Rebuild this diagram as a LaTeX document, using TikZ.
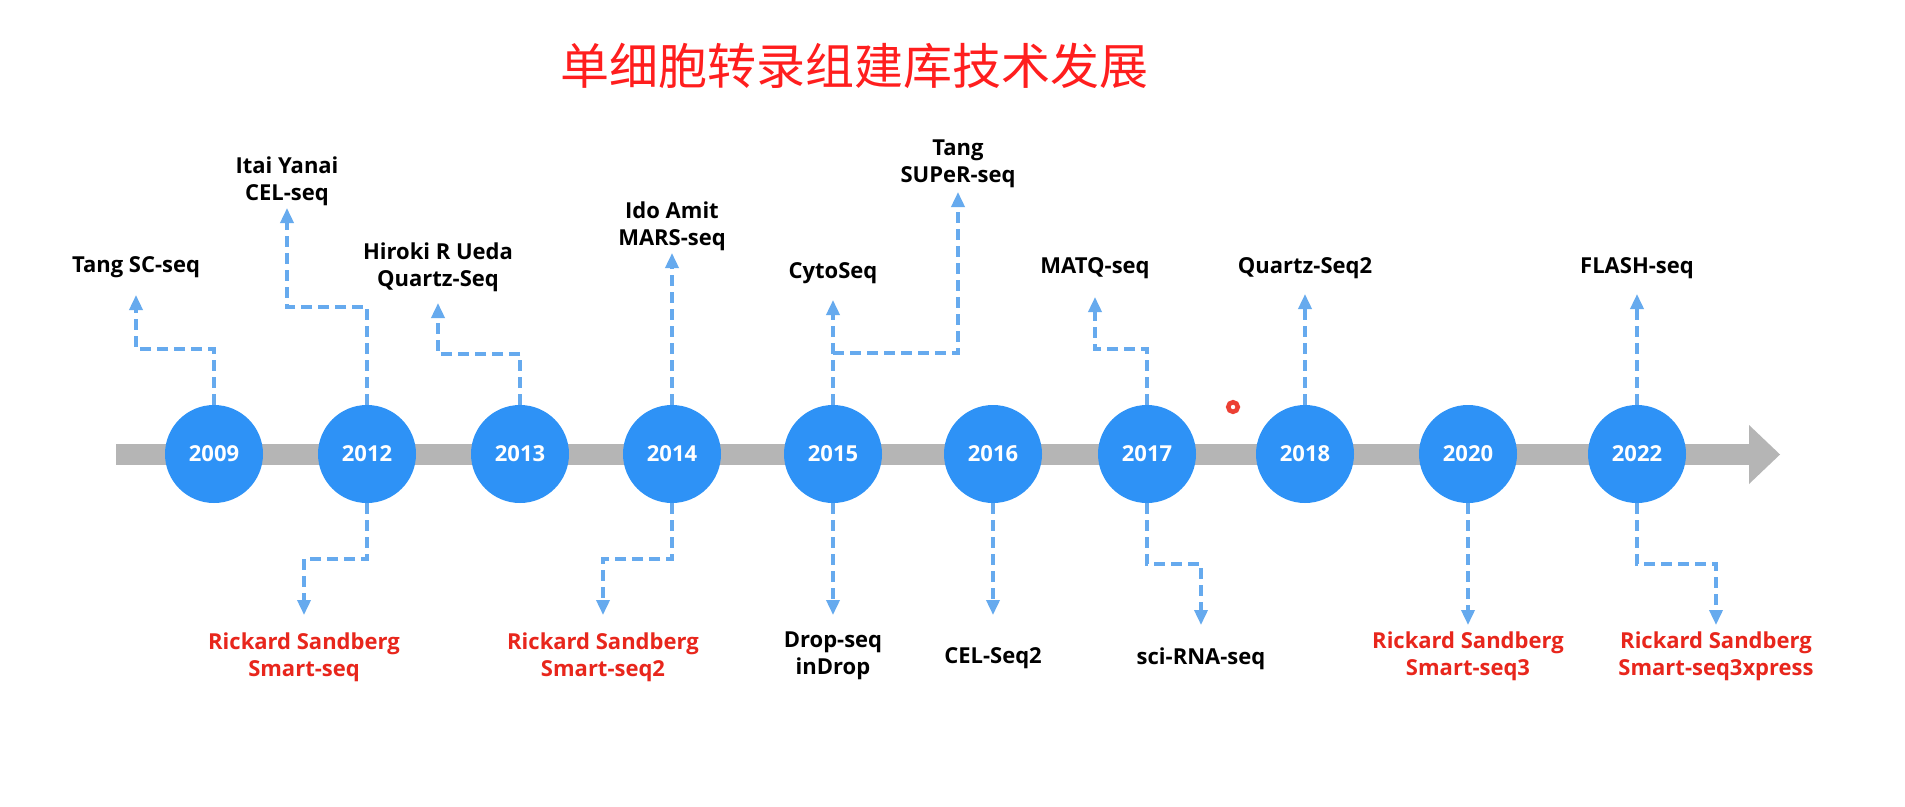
\documentclass[tikz,border=0pt]{standalone}
\usepackage{fontspec}
\usepackage{tikz}
\usetikzlibrary{arrows.meta}

\newfontfamily\opensans{Open Sans}
\newfontfamily\cjk{Noto Sans CJK SC}

\definecolor{yearblue}{RGB}{46,146,246}
\definecolor{linkblue}{RGB}{102,170,238}
\definecolor{bargray}{RGB}{181,181,181}
\definecolor{labred}{RGB}{232,38,28}
\definecolor{titlered}{RGB}{255,30,30}
\definecolor{ringred}{RGB}{236,64,52}

\begin{document}
\begin{tikzpicture}[
        x=1pt, y=-1pt,
        year/.style={
            circle,
            fill=yearblue,
            minimum size=98pt,
            inner sep=0pt,
            text=white,
            font=\opensans\bfseries\fontsize{22}{27}\selectfont
        },
        toplab/.style={
            anchor=south,
            align=center,
            inner xsep=0pt,
            font=\opensans\bfseries\fontsize{22}{27}\selectfont
        },
        botlab/.style={
            anchor=north,
            align=center,
            inner xsep=0pt,
            font=\opensans\bfseries\fontsize{22}{27}\selectfont
        },
        redlab/.style={
            botlab,
            text=labred
        },
        link/.style={
            draw=linkblue,
            line width=3.5pt,
            dash pattern=on 11pt off 6pt,
            -{Triangle[length=15pt, width=13pt]}
        }
    ]

    \fill[white] (0,0) rectangle (1905,806);
    \useasboundingbox (0,0) rectangle (1905,806);

    \node[font=\cjk\fontsize{49}{59}\selectfont, text=titlered] (title) at (854,66)
    {单细胞转录组建库技术发展};

    \fill[bargray] (116,444) rectangle (1749,465);
    \fill[bargray] (1749,425) -- (1780,454.5) -- (1749,484) -- cycle;

    \node[year] (y2009) at (214,454) {2009};
    \node[year] (y2012) at (367,454) {2012};
    \node[year] (y2013) at (520,454) {2013};
    \node[year] (y2014) at (672,454) {2014};
    \node[year] (y2015) at (833,454) {2015};
    \node[year] (y2016) at (993,454) {2016};
    \node[year] (y2017) at (1147,454) {2017};
    \node[year] (y2018) at (1305,454) {2018};
    \node[year] (y2020) at (1468,454) {2020};
    \node[year] (y2022) at (1637,454) {2022};

    \draw[ringred, line width=4.5pt] (1233,407) circle (4.8);

    \node[toplab, inner ysep=17pt] (top2009) at (136,295) {Tang SC-seq};
    \node[toplab, inner ysep=2pt] (top2012) at (287,208) {Itai Yanai\\CEL-seq};
    \node[toplab, inner ysep=11pt] (top2013) at (438,303) {Hiroki R Ueda\\Quartz-Seq};
    \node[toplab, inner ysep=2pt] (top2014) at (672,253) {Ido Amit\\MARS-seq};
    \node[toplab, inner ysep=16pt] (top2015) at (833,300) {CytoSeq};
    \node[toplab, inner ysep=4pt] (super) at (958,192) {Tang\\SUPeR-seq};
    \node[toplab, inner ysep=18pt] (top2017) at (1095,297) {MATQ-seq};
    \node[toplab, inner ysep=15pt] (top2018) at (1305,294) {Quartz-Seq2};
    \node[toplab, inner ysep=15pt] (top2022) at (1637,294) {FLASH-seq};

    \node[redlab, inner ysep=18pt] (bot2012) at (304,615) {Rickard Sandberg\\Smart-seq};
    \node[redlab, inner ysep=18pt] (bot2014) at (603,615) {Rickard Sandberg\\Smart-seq2};
    \node[botlab, inner ysep=17pt] (bot2015) at (833,615) {Drop-seq\\inDrop};
    \node[botlab, inner ysep=32pt] (bot2016) at (993,615) {CEL-Seq2};
    \node[botlab, inner ysep=23pt] (bot2017) at (1201,625) {sci-RNA-seq};
    \node[redlab, inner ysep=7pt] (bot2020) at (1468,625) {Rickard Sandberg\\Smart-seq3};
    \node[redlab, inner ysep=7pt] (bot2022) at (1716,625) {Rickard Sandberg\\Smart-seq3xpress};

    \draw[link] (y2009.north) -- ++(0,-56) -| (top2009.south);
    \draw[link] (y2012.north) -- ++(0,-98) -| (top2012.south);
    \draw[link] (y2013.north) -- ++(0,-51) -| (top2013.south);
    \draw[link] (y2014.north) -- (top2014.south);
    \draw[link] (y2015.north) -- (top2015.south);
    \draw[link] (y2015.north) ++(0,-52) -| (super.south);
    \draw[link] (y2017.north) -- ++(0,-56) -| (top2017.south);
    \draw[link] (y2018.north) -- (top2018.south);
    \draw[link] (y2022.north) -- (top2022.south);

    \draw[link] (y2012.south) -- ++(0,56) -| (bot2012.north);
    \draw[link] (y2014.south) -- ++(0,56) -| (bot2014.north);
    \draw[link] (y2015.south) -- (bot2015.north);
    \draw[link] (y2016.south) -- (bot2016.north);
    \draw[link] (y2017.south) -- ++(0,61) -| (bot2017.north);
    \draw[link] (y2020.south) -- (bot2020.north);
    \draw[link] (y2022.south) -- ++(0,61) -| (bot2022.north);

\end{tikzpicture}
\end{document}
